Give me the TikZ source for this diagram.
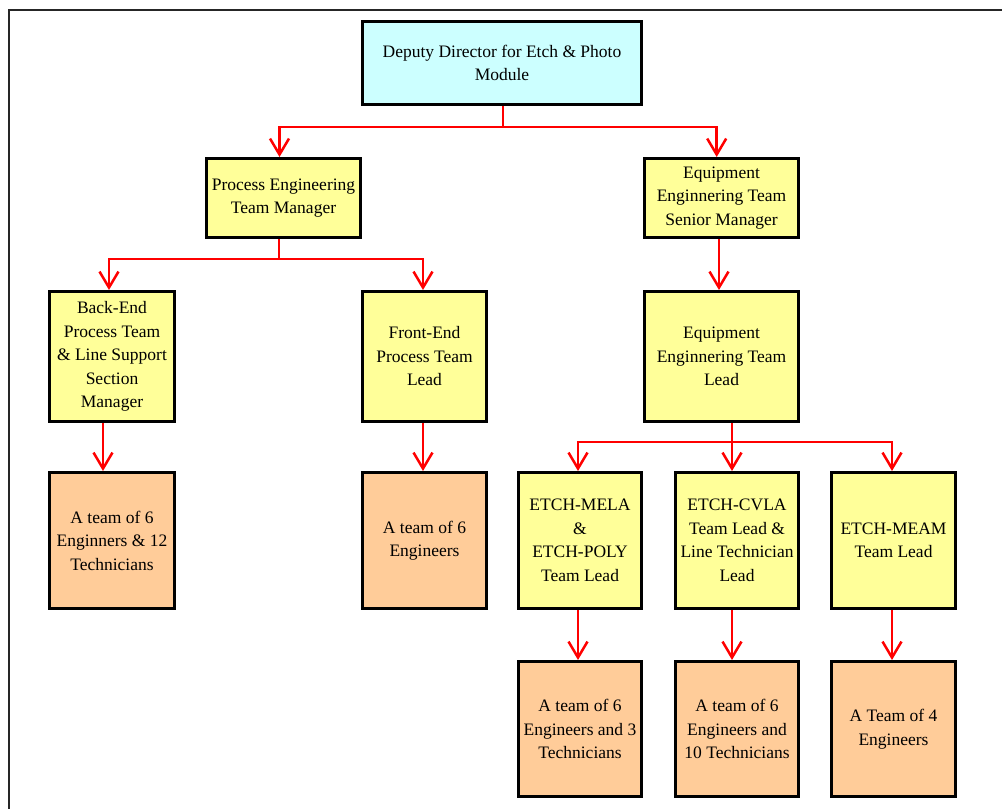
\documentclass[tikz,border=0pt]{standalone}
\usepackage{fontspec}
\setmainfont{Liberation Serif}
\usetikzlibrary{arrows.meta}
\definecolor{boxcyan}{HTML}{CCFFFF}
\definecolor{boxyellow}{HTML}{FFFF99}
\definecolor{boxorange}{HTML}{FFCC99}
\tikzset{
  orgbox/.style={draw=black, line width=3pt, inner sep=0pt, align=center,
    font=\fontsize{17.5}{23.5}\selectfont},
  topbox/.style={orgbox, fill=boxcyan},
  mgrbox/.style={orgbox, fill=boxyellow},
  teambox/.style={orgbox, fill=boxorange},
  conn/.style={draw=red, line width=2.5pt,
    -{Straight Barb[length=16pt,width=19pt]}},
  link/.style={draw=red, line width=2.5pt}
}
\begin{document}
\begin{tikzpicture}[x=1pt,y=-1pt]
\useasboundingbox (0,0) rectangle (1002,809);
% page frame (open at right and bottom)
\draw[line width=2pt, black!85] (9,812) -- (9,10) -- (1005,10);

% level 0
\node[topbox, minimum width=279pt, minimum height=83pt] (dep) at (502,63)
  {Deputy Director for Etch \& Photo\\Module};
% level 1
\node[mgrbox, minimum width=154pt, minimum height=79pt] (pem) at (283.5,198)
  {Process Engineering\\Team Manager};
\node[mgrbox, minimum width=154pt, minimum height=79pt] (eqm) at (721.5,198)
  {Equipment\\Enginnering Team\\Senior Manager};
% level 2
\node[mgrbox, minimum width=125pt, minimum height=130pt] (be) at (112,356.5)
  {Back-End\\Process Team\\\& Line Support\\Section\\Manager};
\node[mgrbox, minimum width=124pt, minimum height=130pt] (fe) at (424.5,356.5)
  {Front-End\\Process Team\\Lead};
\node[mgrbox, minimum width=154pt, minimum height=130pt] (eql) at (721.5,356.5)
  {Equipment\\Enginnering Team\\Lead};
% level 3
\node[teambox, minimum width=125pt, minimum height=136pt] (t1) at (112,540.5)
  {A team of 6\\Enginners \& 12\\Technicians};
\node[teambox, minimum width=124pt, minimum height=136pt] (t2) at (424.5,540.5)
  {A team of 6\\Engineers};
\node[mgrbox, minimum width=123pt, minimum height=136pt] (mela) at (580,540.5)
  {ETCH-MELA\\\&\\ETCH-POLY\\Team Lead};
\node[mgrbox, minimum width=123pt, minimum height=136pt] (cvla) at (737,540.5)
  {ETCH-CVLA\\Team Lead \&\\Line Technician\\Lead};
\node[mgrbox, minimum width=124pt, minimum height=136pt] (meam) at (893.5,540.5)
  {ETCH-MEAM\\Team Lead};
% level 4
\node[teambox, minimum width=123pt, minimum height=135pt] (b1) at (580,729)
  {A team of 6\\Engineers and 3\\Technicians};
\node[teambox, minimum width=123pt, minimum height=135pt] (b2) at (737,729)
  {A team of 6\\Engineers and\\10 Technicians};
\node[teambox, minimum width=124pt, minimum height=135pt] (b3) at (893.5,729)
  {A Team of 4\\Engineers};

% junction points of the branching connectors
\coordinate (j0) at (503,127);
\coordinate (j1) at (279,259);
\coordinate (j2) at (732,442);

% connectors
\draw[link] (dep.south -| j0) -- (j0);
\draw[conn] (j0) -| ([xshift=-4pt]pem.north);
\draw[conn] (j0) -| ([xshift=-4.8pt]eqm.north);

\draw[link] (pem.south -| j1) -- (j1);
\draw[conn] (j1) -| ([xshift=-3pt]be.north);
\draw[conn] (j1) -| ([xshift=-1.5pt]fe.north);

\draw[conn] ([xshift=-2.5pt]eqm.south) -- ([xshift=-2.5pt]eql.north);

\draw[link] (eql.south -| j2) -- (j2);
\draw[conn] (j2) -| ([xshift=-2pt]mela.north);
\draw[conn] (j2) -- (cvla.north -| j2);
\draw[conn] (j2) -| ([xshift=-1.5pt]meam.north);

\draw[conn] ([xshift=-9pt]be.south) -- ([xshift=-9pt]t1.north);
\draw[conn] ([xshift=-1.5pt]fe.south) -- ([xshift=-1.5pt]t2.north);
\draw[conn] ([xshift=-2pt]mela.south) -- ([xshift=-2pt]b1.north);
\draw[conn] ([xshift=-5pt]cvla.south) -- ([xshift=-5pt]b2.north);
\draw[conn] ([xshift=-1.5pt]meam.south) -- ([xshift=-1.5pt]b3.north);
\end{tikzpicture}
\end{document}
